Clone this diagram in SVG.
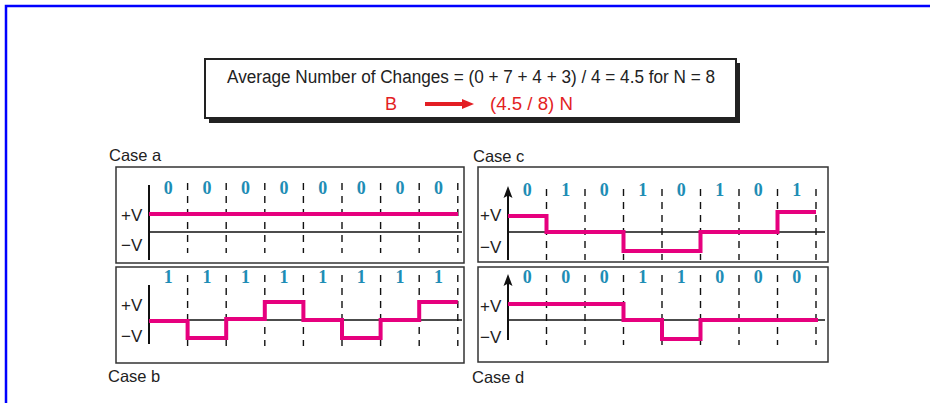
<svg xmlns="http://www.w3.org/2000/svg" width="930" height="403" viewBox="0 0 930 403">
<style>
.box{fill:#fff;stroke:#333;stroke-width:1.5}
.ax{stroke:#111;stroke-width:2;fill:none}
.hx{stroke:#111;stroke-width:1.5;fill:none}
.sig{stroke:#e6007e;stroke-width:4;fill:none;stroke-linejoin:miter;stroke-linecap:butt}
.dash{stroke:#111;stroke-width:1.4;stroke-dasharray:7 6}
.head{fill:#111}
.bit{font-family:"Liberation Serif",serif;font-weight:bold;font-size:18px;fill:#1e8db5;text-anchor:middle}
.lv{font-family:"Liberation Sans",Arial,sans-serif;font-size:17px;fill:#222}
.cap{font-family:"Liberation Sans",Arial,sans-serif;font-size:16.5px;fill:#222}
.hd{font-family:"Liberation Sans",Arial,sans-serif;font-size:18px;fill:#222}
.red{font-family:"Liberation Sans",Arial,sans-serif;font-size:18px;fill:#e31e24}
</style>
<rect width="930" height="403" fill="#fff"/>
<path d="M6,403 V6 H930" fill="none" stroke="#0000ff" stroke-width="2.5"/>

<g id="header">
<rect x="209" y="63" width="531" height="60" fill="#222"/>
<rect x="205" y="59" width="531" height="59" fill="#fff" stroke="#222" stroke-width="2"/>
<text class="hd" x="227" y="83" textLength="488" lengthAdjust="spacingAndGlyphs">Average Number of Changes = (0 + 7 + 4 + 3) / 4 = 4.5  for N = 8</text>
<text class="red" x="385" y="110">B</text>
<text class="red" x="490" y="110" textLength="83" lengthAdjust="spacingAndGlyphs">(4.5 / 8) N</text>
</g>

<g id="connectors">
<line x1="425" y1="104" x2="464" y2="104" stroke="#e31e24" stroke-width="4"/>
<polygon points="462,99 474,104 462,109" fill="#e31e24"/>
</g>

<g id="case-a">
<text class="cap" x="109" y="161">Case a</text>
<rect class="box" x="116" y="167" width="348" height="96"/>
<line class="dash" x1="187.6" y1="183" x2="187.6" y2="253"/>
<line class="dash" x1="226.2" y1="183" x2="226.2" y2="253"/>
<line class="dash" x1="264.8" y1="183" x2="264.8" y2="253"/>
<line class="dash" x1="303.4" y1="183" x2="303.4" y2="253"/>
<line class="dash" x1="342" y1="183" x2="342" y2="253"/>
<line class="dash" x1="380.6" y1="183" x2="380.6" y2="253"/>
<line class="dash" x1="419.2" y1="183" x2="419.2" y2="253"/>
<line class="dash" x1="457.8" y1="183" x2="457.8" y2="253"/>
<line class="hx" x1="149" y1="232" x2="462" y2="232"/>
<line class="ax" x1="149" y1="185" x2="149" y2="260"/>
<path class="sig" d="M149,214 H458"/>
<text class="lv" x="121" y="221">+V</text>
<text class="lv" x="121" y="251">−V</text>
<text class="bit" x="168.3" y="194">0</text>
<text class="bit" x="206.9" y="194">0</text>
<text class="bit" x="245.5" y="194">0</text>
<text class="bit" x="284.1" y="194">0</text>
<text class="bit" x="322.7" y="194">0</text>
<text class="bit" x="361.3" y="194">0</text>
<text class="bit" x="399.9" y="194">0</text>
<text class="bit" x="438.5" y="194">0</text>
</g>

<g id="case-b">
<rect class="box" x="116" y="267" width="348" height="96"/>
<line class="dash" x1="187.6" y1="275" x2="187.6" y2="346"/>
<line class="dash" x1="226.2" y1="275" x2="226.2" y2="346"/>
<line class="dash" x1="264.8" y1="275" x2="264.8" y2="346"/>
<line class="dash" x1="303.4" y1="275" x2="303.4" y2="346"/>
<line class="dash" x1="342" y1="275" x2="342" y2="346"/>
<line class="dash" x1="380.6" y1="275" x2="380.6" y2="346"/>
<line class="dash" x1="419.2" y1="275" x2="419.2" y2="346"/>
<line class="dash" x1="457.8" y1="275" x2="457.8" y2="346"/>
<line class="hx" x1="149" y1="320" x2="462" y2="320"/>
<line class="ax" x1="149" y1="285" x2="149" y2="344"/>
<path class="sig" d="M149,321 H187.6 V338 H226.2 V319 H264.8 V302 H303.4 V320 H342 V338 H380.6 V320 H419.2 V302 H457.8"/>
<text class="lv" x="121" y="311">+V</text>
<text class="lv" x="121" y="342">−V</text>
<text class="bit" x="168.3" y="283">1</text>
<text class="bit" x="206.9" y="283">1</text>
<text class="bit" x="245.5" y="283">1</text>
<text class="bit" x="284.1" y="283">1</text>
<text class="bit" x="322.7" y="283">1</text>
<text class="bit" x="361.3" y="283">1</text>
<text class="bit" x="399.9" y="283">1</text>
<text class="bit" x="438.5" y="283">1</text>
<text class="cap" x="108" y="382">Case b</text>
</g>

<g id="case-c">
<text class="cap" x="473" y="162">Case c</text>
<rect class="box" x="478" y="167" width="350" height="95"/>
<line class="dash" x1="546.5" y1="189" x2="546.5" y2="260"/>
<line class="dash" x1="585" y1="189" x2="585" y2="260"/>
<line class="dash" x1="623.5" y1="189" x2="623.5" y2="260"/>
<line class="dash" x1="662" y1="189" x2="662" y2="260"/>
<line class="dash" x1="700.5" y1="189" x2="700.5" y2="260"/>
<line class="dash" x1="739" y1="189" x2="739" y2="260"/>
<line class="dash" x1="777.5" y1="189" x2="777.5" y2="260"/>
<line class="dash" x1="816" y1="189" x2="816" y2="260"/>
<line class="hx" x1="508" y1="232" x2="825" y2="232"/>
<line class="ax" x1="508" y1="260" x2="508" y2="194"/>
<polygon class="head" points="503.5,198 508,186 512.5,198 508,195.5"/>
<path class="sig" d="M508,216 H546.5 V232 H623.5 V251 H700.5 V232 H777.5 V212 H816"/>
<text class="lv" x="480" y="221">+V</text>
<text class="lv" x="480" y="253">−V</text>
<text class="bit" x="527.3" y="196">0</text>
<text class="bit" x="565.8" y="196">1</text>
<text class="bit" x="604.3" y="196">0</text>
<text class="bit" x="642.8" y="196">1</text>
<text class="bit" x="681.3" y="196">0</text>
<text class="bit" x="719.8" y="196">1</text>
<text class="bit" x="758.3" y="196">0</text>
<text class="bit" x="796.8" y="196">1</text>
</g>

<g id="case-d">
<rect class="box" x="478" y="267" width="350" height="95"/>
<line class="dash" x1="546.5" y1="275" x2="546.5" y2="345"/>
<line class="dash" x1="585" y1="275" x2="585" y2="345"/>
<line class="dash" x1="623.5" y1="275" x2="623.5" y2="345"/>
<line class="dash" x1="662" y1="275" x2="662" y2="345"/>
<line class="dash" x1="700.5" y1="275" x2="700.5" y2="345"/>
<line class="dash" x1="739" y1="275" x2="739" y2="345"/>
<line class="dash" x1="777.5" y1="275" x2="777.5" y2="345"/>
<line class="dash" x1="816" y1="275" x2="816" y2="345"/>
<line class="hx" x1="508" y1="320" x2="825" y2="320"/>
<line class="ax" x1="508" y1="340" x2="508" y2="282"/>
<polygon class="head" points="503.5,286 508,274 512.5,286 508,283.5"/>
<path class="sig" d="M508,304 H623.5 V320 H662 V339 H700.5 V320 H818"/>
<text class="lv" x="480" y="312">+V</text>
<text class="lv" x="480" y="343">−V</text>
<text class="bit" x="527.3" y="283">0</text>
<text class="bit" x="565.8" y="283">0</text>
<text class="bit" x="604.3" y="283">0</text>
<text class="bit" x="642.8" y="283">1</text>
<text class="bit" x="681.3" y="283">1</text>
<text class="bit" x="719.8" y="283">0</text>
<text class="bit" x="758.3" y="283">0</text>
<text class="bit" x="796.8" y="283">0</text>
<text class="cap" x="472" y="383">Case d</text>
</g>
</svg>
